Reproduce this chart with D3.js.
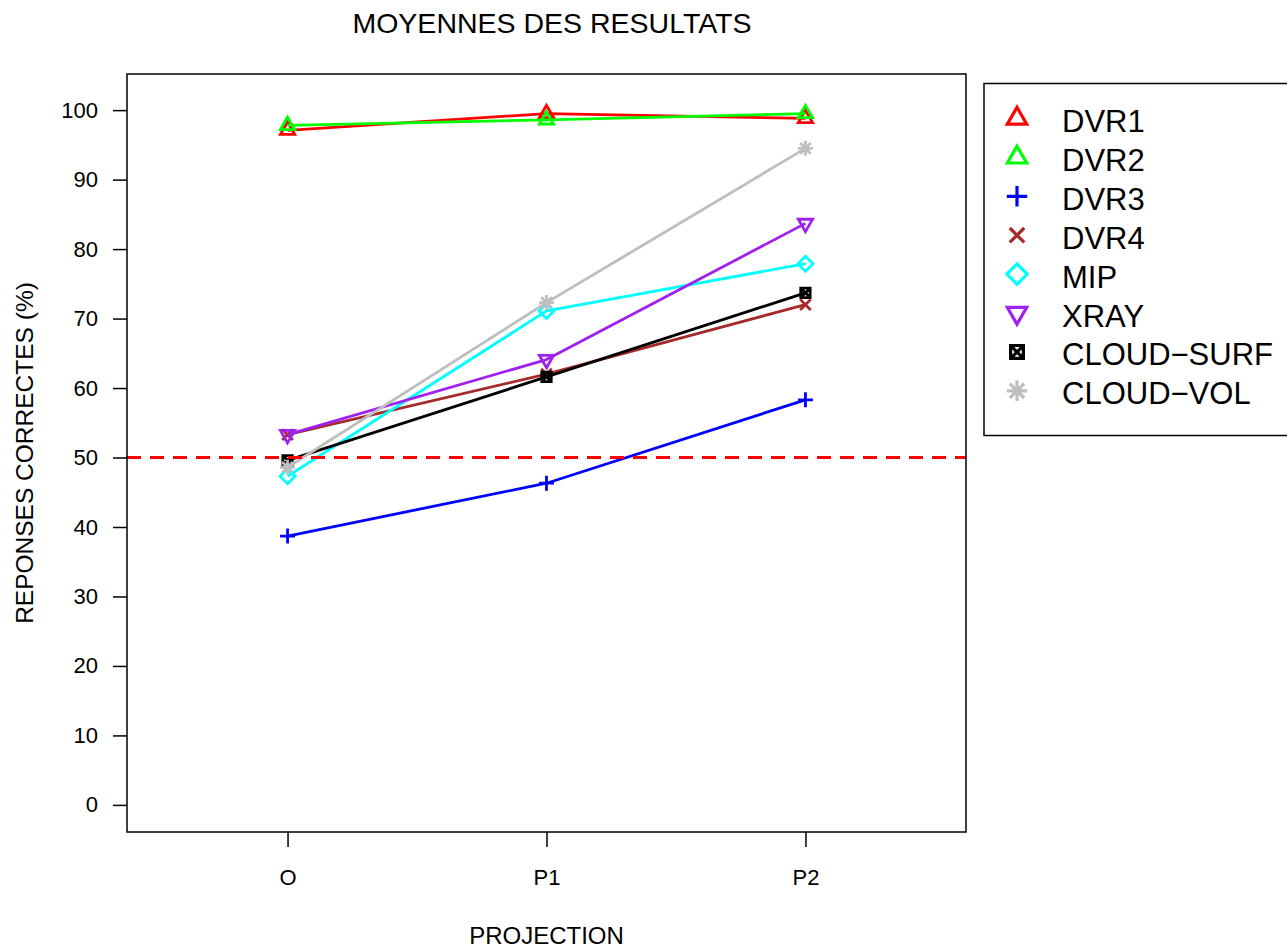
<!DOCTYPE html>
<html>
<head>
<meta charset="utf-8">
<script src="https://cdn.jsdelivr.net/npm/d3@7"></script>
<style>
  body { margin: 0; background: #fff; }
  svg { display: block; }
  text { font-family: "Liberation Sans", Arial, sans-serif; fill: #000; }
</style>
</head>
<body>
<svg id="chart" width="1287" height="948"></svg>
<script>
// ---- data ----
const categories = ["O", "P1", "P2"];
const seriesNames = ["DVR1", "DVR2", "DVR3", "DVR4", "MIP", "XRAY", "CLOUD\u2212SURF", "CLOUD\u2212VOL"];
const DVR1 = [97.1, 99.5, 98.8];
const DVR2 = [97.8, 98.6, 99.5];
const DVR3 = [38.7, 46.3, 58.3];
const DVR4 = [53.3, 62.0, 72.0];
const MIP = [47.3, 71.1, 77.9];
const XRAY = [53.3, 64.1, 83.7];
const CLOUD_SURF = [49.6, 61.6, 73.7];
const CLOUD_VOL = [48.6, 72.3, 94.5];
const seriesValues = [DVR1, DVR2, DVR3, DVR4, MIP, XRAY, CLOUD_SURF, CLOUD_VOL];
const seriesColors = ["#FF0000", "#00FF00", "#0000FF", "#A52A2A", "#00FFFF", "#A020F0", "#000000", "#BEBEBE"];
const seriesSymbols = ["triUp", "triUp", "plus", "cross", "diamond", "triDown", "squareX", "asterisk"];
const yTicks = [0, 10, 20, 30, 40, 50, 60, 70, 80, 90, 100];
const referenceLevel = 50;
const titleText = "MOYENNES DES RESULTATS";
const xTitle = "PROJECTION";
const yTitle = "REPONSES CORRECTES (%)";

// ---- layout ----
const svg = d3.select("#chart");
const box = { left: 127, right: 966, top: 74, bottom: 832 };
const x = d3.scaleLinear().domain([0.38, 3.62]).range([box.left, box.right]);
const y = d3.scaleLinear().domain([-3.9, 105.2]).range([box.bottom, box.top]);
const LW = 2.8;

function symbolPath(type, s) {
  const p = d3.path();
  if (type === "triUp" || type === "triDown") {
    const r = 1.5551 * s, xc = 1.3468 * s, yc = 0.7776 * s;
    const sg = type === "triUp" ? 1 : -1;
    p.moveTo(0, -sg * r); p.lineTo(xc, sg * yc); p.lineTo(-xc, sg * yc); p.closePath();
  } else if (type === "plus") {
    const xc = 1.4142 * s;
    p.moveTo(-xc, 0); p.lineTo(xc, 0); p.moveTo(0, -xc); p.lineTo(0, xc);
  } else if (type === "cross") {
    const xc = s;
    p.moveTo(-xc, -xc); p.lineTo(xc, xc); p.moveTo(-xc, xc); p.lineTo(xc, -xc);
  } else if (type === "diamond") {
    const xc = 1.4142 * s;
    p.moveTo(0, -xc); p.lineTo(xc, 0); p.lineTo(0, xc); p.lineTo(-xc, 0); p.closePath();
  } else if (type === "squareX") {
    const xc = 0.8862 * s;
    p.rect(-xc, -xc, 2 * xc, 2 * xc);
    p.moveTo(-xc, -xc); p.lineTo(xc, xc); p.moveTo(-xc, xc); p.lineTo(xc, -xc);
  } else if (type === "asterisk") {
    const xc = s, xp = 1.4142 * s;
    p.moveTo(-xc, -xc); p.lineTo(xc, xc); p.moveTo(-xc, xc); p.lineTo(xc, -xc);
    p.moveTo(-xp, 0); p.lineTo(xp, 0); p.moveTo(0, -xp); p.lineTo(0, xp);
  }
  return p.toString();
}

// title
svg.append("text").attr("x", 552).attr("y", 33).attr("text-anchor", "middle")
  .style("font-size", "28.5px").text(titleText);

// y axis
const yAxis = svg.append("g").attr("transform", `translate(${box.left},0)`)
  .call(d3.axisLeft(y).tickValues(yTicks).tickSize(14).tickPadding(15).tickFormat(d3.format("d")));
yAxis.select(".domain").remove();
yAxis.selectAll(".tick line").attr("stroke", "#000").attr("stroke-width", 1.5);
yAxis.selectAll(".tick text").style("font-size", "22px").style("font-family", '"Liberation Sans", Arial, sans-serif');

// x axis
const xAxis = svg.append("g").attr("transform", `translate(0,${box.bottom})`)
  .call(d3.axisBottom(x).tickValues([1, 2, 3]).tickSize(15).tickPadding(22).tickFormat((d) => categories[d - 1]));
xAxis.select(".domain").remove();
xAxis.selectAll(".tick line").attr("stroke", "#000").attr("stroke-width", 1.5);
xAxis.selectAll(".tick text").style("font-size", "22px").style("font-family", '"Liberation Sans", Arial, sans-serif');

// axis titles
svg.append("text").attr("x", x(2)).attr("y", 944).attr("text-anchor", "middle")
  .style("font-size", "24px").text(xTitle);
svg.append("text").attr("transform", `translate(33,${(box.top + box.bottom) / 2}) rotate(-90)`)
  .attr("text-anchor", "middle").style("font-size", "24.5px").text(yTitle);

// series
const line = d3.line().x((d, i) => x(i + 1)).y((d) => y(d));
seriesValues.forEach((vals, k) => {
  const g = svg.append("g");
  g.append("path").attr("d", line(vals)).attr("fill", "none")
    .attr("stroke", seriesColors[k]).attr("stroke-width", LW).attr("stroke-linejoin", "round");
  g.selectAll("path.sym").data(vals).join("path").attr("class", "sym")
    .attr("transform", (d, i) => `translate(${x(i + 1)},${y(d)})`)
    .attr("d", symbolPath(seriesSymbols[k], 5.3))
    .attr("fill", "none").attr("stroke", seriesColors[k]).attr("stroke-width", LW);
});

// reference dashed line
svg.append("line").attr("x1", box.left).attr("x2", box.right)
  .attr("y1", y(referenceLevel)).attr("y2", y(referenceLevel))
  .attr("stroke", "#FF0000").attr("stroke-width", LW).attr("stroke-dasharray", "14,9");

// plot box
svg.append("rect").attr("x", box.left).attr("y", box.top)
  .attr("width", box.right - box.left).attr("height", box.bottom - box.top)
  .attr("fill", "none").attr("stroke", "#000").attr("stroke-width", 1.5);

// legend
const leg = svg.append("g");
leg.append("rect").attr("x", 984).attr("y", 83.5).attr("width", 400).attr("height", 352)
  .attr("fill", "none").attr("stroke", "#000").attr("stroke-width", 1.5);
seriesNames.forEach((name, k) => {
  const cy = 120.5 + k * 38.9;
  leg.append("path").attr("transform", `translate(1017,${cy - 2})`)
    .attr("d", symbolPath(seriesSymbols[k], 7.2))
    .attr("fill", "none").attr("stroke", seriesColors[k]).attr("stroke-width", 3.2);
  leg.append("text").attr("x", 1062).attr("y", cy + 11.5).style("font-size", "31px").text(name);
});
</script>
</body>
</html>
